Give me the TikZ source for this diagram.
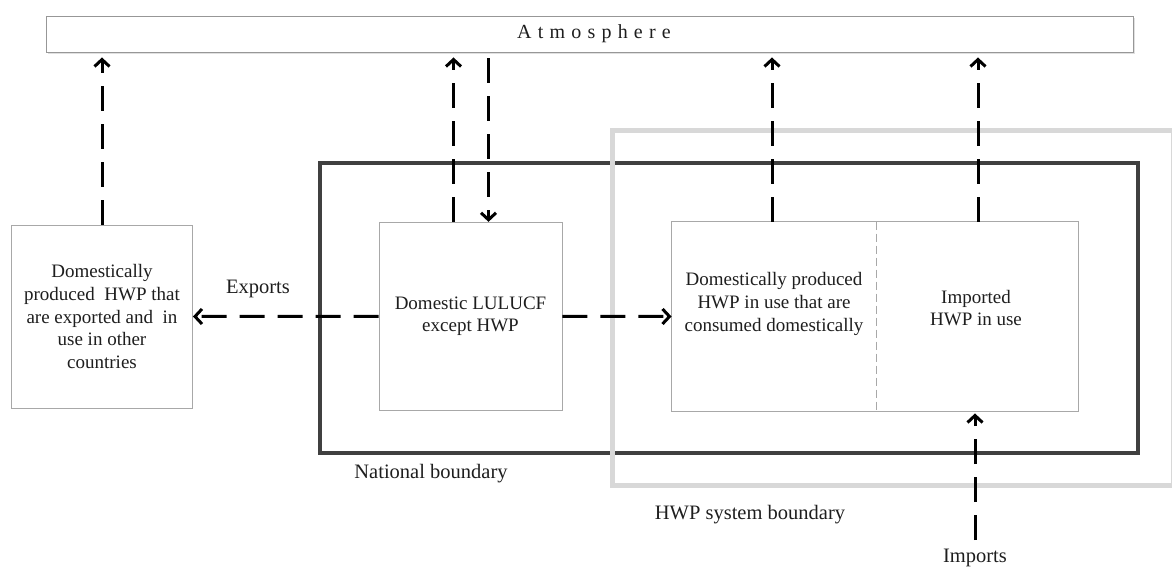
\documentclass[tikz,border=0pt]{standalone}
\usepackage{fontspec}
\setmainfont{Liberation Serif}
\usetikzlibrary{arrows.meta}
\definecolor{boxgray}{HTML}{A8A8A8}
\definecolor{natgray}{HTML}{404040}
\definecolor{hwpgray}{HTML}{D8D8D8}
\definecolor{inkc}{HTML}{1E1E1E}
\begin{document}
\begin{tikzpicture}[x=1pt,y=-1pt,
  box/.style={draw=boxgray, line width=0.9pt, fill=white, inner sep=0pt, align=center,
    text=inkc, font=\fontsize{19}{22.7}\selectfont},
  txt/.style={inner sep=0pt, align=center, text=inkc, font=\fontsize{19}{22.7}\selectfont},
  lbl/.style={inner sep=0pt, text=inkc, font=\fontsize{20.5}{24}\selectfont},
  natbox/.style={draw=natgray, line width=4pt, inner sep=0pt},
  hwpbox/.style={draw=hwpgray, line width=5pt, inner sep=0pt},
  flow/.style={draw=black, line width=3pt, dash pattern=on 25pt off 13pt,
    -{Straight Barb[length=7pt,width=15pt,line width=3pt]}},
  divider/.style={draw=boxgray, line width=0.9pt, dash pattern=on 8pt off 4pt}
]
\useasboundingbox (0,0) rectangle (1172,569);
% boundaries
\node[natbox, minimum width=818pt, minimum height=290pt] (nat) at (729,308) {};
\node[hwpbox, minimum width=561pt, minimum height=354pt] (hwp) at (892.5,308) {};
% atmosphere
\draw[draw=black!12, line width=1.5pt] (48,53.5) -- (1134.5,53.5) -- (1134.5,18);
\node[box, draw=boxgray!90!black, minimum width=1087pt, minimum height=36pt, font=\fontsize{20}{24}\selectfont] (atm) at (589.5,34) {};
\node[txt, font=\fontsize{20}{24}\selectfont] (atmT) at (594,33.5)
  {{\spaceskip=0.31em A t m o s p h e r e}};
% boxes
\node[box, minimum width=181pt, minimum height=183pt] (exp) at (102,316.5)
  {Domestically\\produced\ \ HWP that\\are exported and\ \ in\\use in other\\countries};
\node[box, minimum width=183pt, minimum height=188pt] (lul) at (470.5,316.3)
  {Domestic LULUCF\\except HWP};
\node[box, draw=none, minimum width=204pt, minimum height=189pt] (cons) at (774,316.5) {};
\node[box, draw=none, minimum width=202pt, minimum height=189pt] (imp) at (977,316.5) {};
\draw[draw=boxgray, line width=0.9pt] (cons.north west) rectangle (imp.south east);
\draw[divider] (cons.north east) -- (cons.south east);
\node[txt] (consT) at (774,304) {Domestically produced\\HWP in use that are\\consumed domestically};
\node[txt] (impT) at (976,308) {Imported\\HWP in use};
% labels
\node[lbl] (natL) at (431,474) {National boundary};
\node[lbl] (hwpL) at (750,515) {HWP system boundary};
\node[lbl] (expL) at (258,289) {Exports};
\node[lbl] (impL) at (975,558) {Imports};
% arrows
\coordinate (lulA) at ([xshift=-17pt]lul.north);
\coordinate (lulB) at ([xshift=18pt]lul.north);
\coordinate (consA) at ([xshift=-2pt]cons.north);
\coordinate (impA) at ([xshift=1pt]imp.north);
\coordinate (impsrc) at (975,540);
\draw[flow, shorten >=5pt] (exp.north) -- (exp.north |- atm.south);
\draw[flow, shorten >=5pt] (lulA) -- (lulA |- atm.south);
\draw[flow, shorten <=6pt] (lulB |- atm.south) -- (lulB);
\draw[flow, shorten >=5pt] (consA) -- (consA |- atm.south);
\draw[flow, shorten >=5pt] (impA) -- (impA |- atm.south);
\draw[flow] (lul.west) -- (exp.east);
\draw[flow] (lul.east) -- (cons.west);
\draw[flow, shorten >=2pt] (impsrc) -- (impsrc |- imp.south);
\end{tikzpicture}
\end{document}
